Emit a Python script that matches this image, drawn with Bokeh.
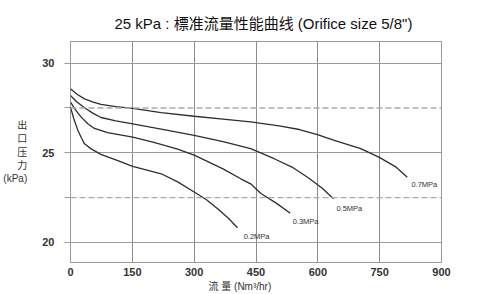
from bokeh.plotting import figure
from bokeh.models import FixedTicker, Span, Range1d, Title
from bokeh.core.properties import value
from bokeh.embed import file_html
from bokeh.resources import INLINE

# ---- data ----
x_ticks = [0, 150, 300, 450, 600, 750, 900]
y_ticks_major = [20, 25, 30]
y_dashed = [22.5, 27.5]

series_names = ["0.7MPa", "0.5MPa", "0.3MPa", "0.2MPa"]

flow_07 = [0, 15, 34, 55, 74, 110, 151, 220, 300, 370, 437, 510, 555, 599, 640, 704, 748, 790, 817]
pres_07 = [28.57, 28.28, 28.01, 27.83, 27.7, 27.58, 27.48, 27.24, 27.04, 26.88, 26.72, 26.49, 26.3, 26.02, 25.69, 25.23, 24.76, 24.2, 23.64]

flow_05 = [0, 15, 34, 55, 74, 110, 151, 220, 300, 370, 437, 494, 540, 575, 610, 638]
pres_05 = [28.2, 27.85, 27.51, 27.2, 26.97, 26.78, 26.62, 26.32, 25.97, 25.62, 25.23, 24.67, 24.17, 23.64, 23.04, 22.44]

flow_03 = [0, 12, 26, 42, 58, 90, 151, 200, 260, 300, 370, 413, 437, 462, 500, 533]
pres_03 = [27.83, 27.4, 26.99, 26.62, 26.36, 26.12, 25.87, 25.6, 25.2, 24.87, 24.1, 23.55, 23.27, 22.73, 22.18, 21.63]

flow_02 = [0, 8, 18, 26, 34, 50, 75, 110, 151, 220, 260, 300, 330, 357, 383, 405]
pres_02 = [27.55, 26.9, 26.25, 25.85, 25.5, 25.22, 24.9, 24.6, 24.24, 23.83, 23.38, 22.81, 22.38, 21.88, 21.35, 20.82]

label_x = [827, 645, 539, 420]
label_y = [23.23, 21.9, 21.17, 20.35]

chart_title = '25 kPa : 標准流量性能曲线 (Orifice size 5/8")'
y_title = "出\n口\n压\n力\n(kPa)"
x_title = "流  量  (Nm³/hr)"

# ---- figure ----
p = figure(width=499, height=294, output_backend="svg", toolbar_location=None,
           x_range=Range1d(0, 900), y_range=Range1d(18.88, 31.21),
           min_border_left=69, min_border_right=58, min_border_top=41, min_border_bottom=32)
p.background_fill_color = "white"
p.border_fill_color = "white"
p.outline_line_color = "#9a9a9a"
p.outline_line_width = 1

# title
p.title.text = chart_title
p.title.text_font = "Liberation Sans, Noto Sans CJK SC"
p.title.text_font_size = "15px"
p.title.text_font_style = "normal"
p.title.text_color = "#111111"
p.title.align = "left"
p.title.offset = 44
p.title.standoff = 19

# grids
p.xgrid.ticker = FixedTicker(ticks=x_ticks)
p.ygrid.ticker = FixedTicker(ticks=y_ticks_major)
p.xgrid.grid_line_color = "#8c8c8c"
p.ygrid.grid_line_color = "#9a9a9a"
p.xgrid.grid_line_width = 1
p.ygrid.grid_line_width = 1

for yv in y_dashed:
    p.add_layout(Span(location=yv, dimension="width", line_color="#aaaaaa",
                      line_width=1.4, line_dash="6 3"))

# axes
xa = p.xaxis[0]
xa.ticker = FixedTicker(ticks=x_ticks)
xa.major_tick_out = 0
xa.major_tick_in = 0
xa.minor_tick_out = 0
xa.axis_line_color = None
xa.major_label_standoff = 5
xa.major_label_text_font = "Liberation Sans"
xa.major_label_text_font_style = "bold"
xa.major_label_text_font_size = "11px"
xa.major_label_text_color = "#333333"

ya = p.yaxis[0]
ya.ticker = FixedTicker(ticks=[20, 22.5, 25, 27.5, 30])
ya.major_label_overrides = {22.5: "", 27.5: ""}
ya.major_tick_out = 6
ya.major_tick_in = 0
ya.minor_tick_out = 0
ya.major_tick_line_color = "#9a9a9a"
ya.axis_line_color = None
ya.major_label_standoff = 10
ya.major_label_text_font = "Liberation Sans"
ya.major_label_text_font_style = "bold"
ya.major_label_text_font_size = "11px"
ya.major_label_text_color = "#333333"
ya.axis_label = y_title
ya.axis_label_text_font = "Liberation Sans, Noto Sans CJK SC"
ya.axis_label_text_font_size = "10px"
ya.axis_label_text_font_style = "normal"
ya.axis_label_text_color = "#333333"
ya.axis_label_standoff = 12
try:
    ya.axis_label_orientation = "horizontal"
except Exception:
    pass

# x axis title as a title below the axis
p.add_layout(Title(text=x_title, text_font="Liberation Sans, Noto Sans CJK SC",
                   text_font_size="10px", text_font_style="normal", text_color="#333333",
                   align="left", offset=138, standoff=0), "below")

# curves
curve_color = "#2e2e2e"
for fx, py in [(flow_07, pres_07), (flow_05, pres_05), (flow_03, pres_03), (flow_02, pres_02)]:
    p.line(fx, py, line_color=curve_color, line_width=1.3)

# curve labels
p.text(x=label_x, y=label_y, text=series_names, text_font=value("Liberation Sans"),
       text_font_size="7.5px", text_color="#333333", text_align="left", text_baseline="middle")

open("out.html", "w").write(file_html(p, INLINE))
